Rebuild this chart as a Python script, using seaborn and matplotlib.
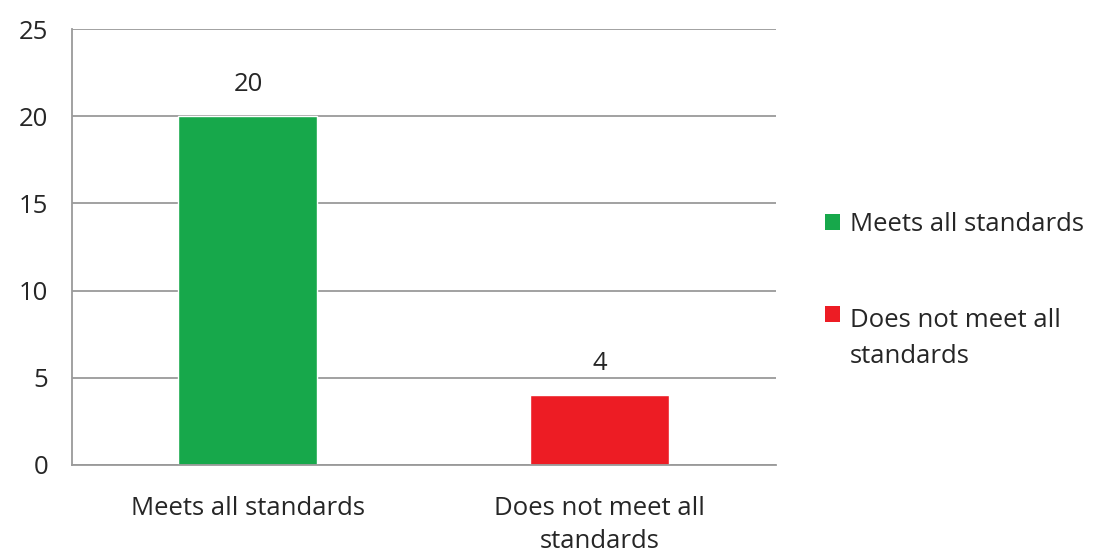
import matplotlib
matplotlib.use("Agg")
import matplotlib.pyplot as plt
from matplotlib.patches import Patch, Rectangle
from matplotlib.legend_handler import HandlerPatch
import seaborn as sns
import pandas as pd

categories = ["Meets all standards", "Does not meet all standards"]
tick_labels = ["Meets all standards", "Does not meet all\nstandards"]
legend_labels = ["Meets all standards", "Does not meet all\nstandards"]
counts = [20, 4]
colors = ["#17a84b", "#ed1c24"]

sns.set_style("white")
plt.rcParams["font.family"] = ["Open Sans", "DejaVu Sans"]

df = pd.DataFrame({"category": categories, "count": counts})

fig = plt.figure(figsize=(11.1, 5.56), dpi=100)
ax = fig.add_axes([0.0649, 0.1637, 0.634, 0.784])

sns.barplot(data=df, x="category", y="count", hue="category",
            palette=colors, width=0.395, legend=False, ax=ax, saturation=1)

grid_col = "#9a9a9a"
text_col = "#262626"
fs = 18.5
line_sp = 1.58
ax.set_ylim(0, 25)
ax.set_yticks([0, 5, 10, 15, 20, 25])
ax.yaxis.grid(True, color=grid_col, linewidth=1.3)
ax.set_axisbelow(True)
ax.set_xlim(-0.5, 1.5)

for side in ["top", "right"]:
    ax.spines[side].set_visible(False)
for side in ["left", "bottom"]:
    ax.spines[side].set_color(grid_col)
    ax.spines[side].set_linewidth(1.3)

ax.set_xticks([0, 1])
ax.set_xticklabels(tick_labels, fontsize=fs, color=text_col, linespacing=1.45)
ax.set_xticks([-0.5, 0.5, 1.5], minor=True)
ax.tick_params(axis="x", which="major", length=0, pad=22)
ax.tick_params(axis="x", which="minor", length=7, width=1.3, color=grid_col, direction="out")
ax.tick_params(axis="y", length=7, width=1.3, color=grid_col, direction="out",
               labelsize=fs, labelcolor=text_col, pad=10)
ax.set_xlabel("")
ax.set_ylabel("")

for container in ax.containers:
    ax.bar_label(container, fmt="%d", padding=14, fontsize=fs, color=text_col)


class TopAlignedSquare(HandlerPatch):
    """Legend swatch aligned with the first line of a wrapped label."""

    def __init__(self, lines, **kw):
        super().__init__(**kw)
        self.lines = lines

    def _create_patch(self, legend, orig_handle, xdescent, ydescent,
                      width, height, fontsize):
        shift = 0.5 * (self.lines - 1) * fontsize * 1.2 * line_sp
        return Rectangle((-xdescent, -ydescent + shift), width, height)


handles = [Patch(facecolor=c, edgecolor="none") for c in colors]
handler_map = {h: TopAlignedSquare(lab.count("\n") + 1)
               for h, lab in zip(handles, legend_labels)}
leg = fig.legend(handles, legend_labels, loc="center left",
                 bbox_to_anchor=(0.722, 0.478), frameon=False, fontsize=fs,
                 handlelength=0.6, handleheight=0.6, handletextpad=0.4,
                 labelspacing=2.75, labelcolor=text_col, handler_map=handler_map)
for t in leg.get_texts():
    t.set_linespacing(line_sp)

fig.savefig("out.png", dpi=100)
